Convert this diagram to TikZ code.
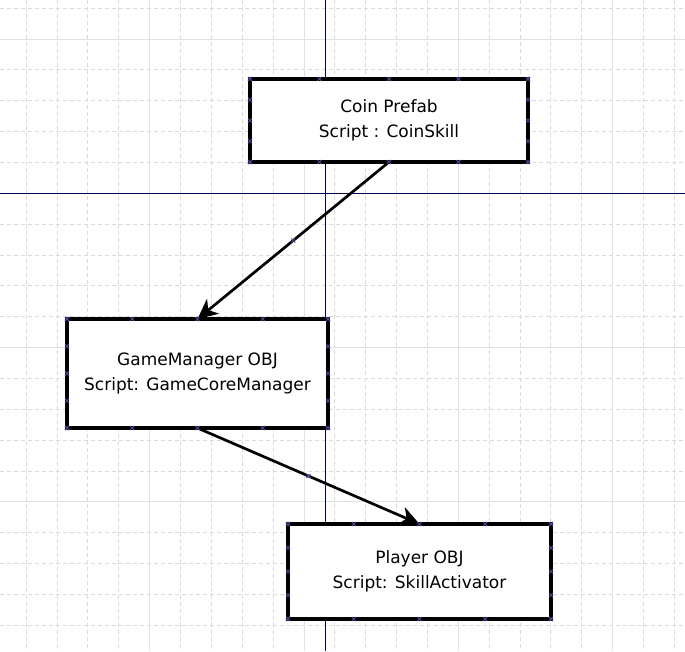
\documentclass[tikz,border=0pt]{standalone}
\usepackage{fontspec}
\setmainfont{DejaVu Sans}
\usetikzlibrary{arrows.meta,calc}
\definecolor{gridc}{HTML}{DADADA}
\definecolor{gridmaj}{HTML}{DCE3E3}
\definecolor{axisc}{HTML}{000050}
\definecolor{markc}{HTML}{4A4A9A}
\tikzset{
  box/.style={draw=black, line width=3.2pt, fill=white, align=center, outer sep=0pt,
    inner sep=0pt, font=\fontsize{17}{25}\selectfont},
  conn/.style={draw=black, line width=2.7pt, -{Stealth[length=20pt,width=19pt,inset=6pt]}},
  hx/.pic={\draw[markc,line width=0.8pt] (-2,-2)--(2,2) (-2,2)--(2,-2);},
  minorgrid/.style={gridc, line width=1pt, dash pattern=on 4pt off 3pt},
  majorgrid/.style={gridmaj, line width=1pt},
  axisline/.style={axisc, line width=1.2pt}
}
\begin{document}
\begin{tikzpicture}[x=1pt,y=-1pt]
\useasboundingbox (0,0) rectangle (685,651);
\fill[white] (0,0) rectangle (685,651);
\begin{scope}
\clip (0,0) rectangle (685,651);
% grid
\foreach \i in {1,...,22} {
  \draw[minorgrid] ({-4.6+30.86*\i},0) -- ({-4.6+30.86*\i},651);
}
\foreach \j in {0,...,21} {
  \draw[minorgrid] (0,{8.2+30.86*\j}) -- (685,{8.2+30.86*\j});
}
\foreach \i in {5,10,15,20} {
  \draw[majorgrid] ({-4.6+30.86*\i},0) -- ({-4.6+30.86*\i},651);
}
\foreach \j in {1,11,16} {
  \draw[majorgrid] (0,{8.2+30.86*\j}) -- (685,{8.2+30.86*\j});
}
% axes
\draw[axisline] (0,193.3) -- (685,193.3);
\draw[axisline] (325.7,0) -- (325.7,651);
\end{scope}

% boxes
\node[box, minimum width=278pt, minimum height=83pt] (b1) at (389,120.5)
  {Coin Prefab\\Script : CoinSkill};
\node[box, minimum width=261pt, minimum height=109pt] (b2) at (197.5,373.5)
  {GameManager OBJ\\Script: GameCoreManager};
\node[box, minimum width=263pt, minimum height=95pt] (b3) at (419.5,571.5)
  {Player OBJ\\Script: SkillActivator};

% connectors
\draw[conn] (b1.south) -- (b2.north);
\draw[conn] (b2.south) -- (b3.north);

% handle markers
\foreach \b in {b1,b2,b3} {
  \foreach \t in {0,0.25,0.5,0.75,1} {
    \pic at ($(\b.north west)!\t!(\b.north east)$) {hx};
    \pic at ($(\b.south west)!\t!(\b.south east)$) {hx};
    \pic at ($(\b.north west)!\t!(\b.south west)$) {hx};
    \pic at ($(\b.north east)!\t!(\b.south east)$) {hx};
  }
}
\pic at ($(b1.south)!0.5!(b2.north)$) {hx};
\pic at ($(b2.south)!0.5!(b3.north)$) {hx};
\end{tikzpicture}
\end{document}
